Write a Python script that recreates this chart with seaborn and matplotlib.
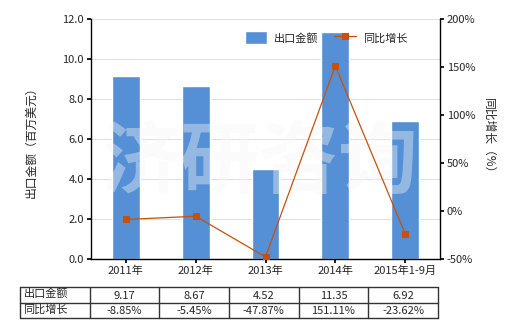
import matplotlib
matplotlib.use("Agg")
import matplotlib.pyplot as plt
import seaborn as sns
import pandas as pd
import numpy as np

categories = ["2011年", "2012年", "2013年", "2014年", "2015年1-9月"]
export_values = [9.17, 8.67, 4.52, 11.35, 6.92]
growth_pct = [-8.85, -5.45, -47.87, 151.11, -23.62]
export_labels = ["9.17", "8.67", "4.52", "11.35", "6.92"]
growth_labels = ["-8.85%", "-5.45%", "-47.87%", "151.11%", "-23.62%"]
series_names = ["出口金额", "同比增长"]

sns.set_theme(style="white")
plt.rcParams['font.family'] = ['Noto Sans CJK SC', 'DejaVu Sans']
plt.rcParams['axes.unicode_minus'] = False

fig = plt.figure(figsize=(5.2, 3.3), dpi=100)
W, H = 520, 330
L, R, T, B = 91, 440, 19, 259
ax = fig.add_axes([L / W, 1 - B / H, (R - L) / W, (B - T) / H])

df = pd.DataFrame({"cat": categories, "val": export_values, "g": growth_pct})
bar_color = "#5590d6"
sns.barplot(data=df, x="cat", y="val", color=bar_color, width=0.4, ax=ax,
            saturation=1, label=series_names[0], zorder=2)
if ax.get_legend():
    ax.get_legend().remove()
ax.set_xlim(-0.5, 4.5)
ax.set_ylim(0, 12)
ax.set_yticks(np.arange(0, 12.01, 2))
ax.set_yticklabels([f"{v:.1f}" for v in np.arange(0, 12.01, 2)], fontsize=8)
ax.set_xticks(range(len(categories)))
ax.set_xticklabels(categories, fontsize=8)
ax.set_xlabel("")
ax.set_ylabel("出口金额（百万美元）", fontsize=8.5, labelpad=18)
ax.grid(axis="y", color="#e0e0e0", linewidth=0.8, zorder=0)
ax.set_axisbelow(True)
for s in ["top", "right"]:
    ax.spines[s].set_visible(False)
for s in ["left", "bottom"]:
    ax.spines[s].set_color("black")
    ax.spines[s].set_linewidth(1)
ax.tick_params(axis="both", which="both", length=3, color="black", direction="out",
               left=True, bottom=True, pad=2)

# watermark (above bars, below line)
ax.text(260 / W, 1 - 164 / H, "济研咨询", transform=fig.transFigure, fontsize=57,
        color="#f6f6f6", alpha=0.4, ha="center", va="center", fontweight="bold", zorder=5)

ax2 = ax.twinx()
line_color = "#c8500a"
sns.lineplot(data=df, x="cat", y="g", ax=ax2, color=line_color, linewidth=0.9,
             marker="s", markersize=5, markeredgecolor=line_color,
             label=series_names[1], sort=False, zorder=3)
ax2.set_ylim(-50, 200)
ax2.set_yticks(np.arange(-50, 201, 50))
ax2.set_yticklabels([f"{v}%" for v in range(-50, 201, 50)], fontsize=8)
ax2.set_ylabel("同比增长（%）", fontsize=8.5, rotation=-90, labelpad=14)
for s in ["top", "left", "bottom"]:
    ax2.spines[s].set_visible(False)
ax2.spines["right"].set_color("black")
ax2.spines["right"].set_linewidth(1)
ax2.tick_params(axis="y", length=3, color="black", direction="out", right=True, pad=2)
ax2.grid(False)
ax2.set_xlabel("")

# legend
h1, l1 = ax.get_legend_handles_labels()
h2, l2 = ax2.get_legend_handles_labels()
if ax2.get_legend():
    ax2.get_legend().remove()
leg = ax2.legend(h1 + h2, l1 + l2, loc="upper right", bbox_to_anchor=(0.935, 0.99),
                 ncol=2, frameon=False, fontsize=8, handlelength=2.0, handleheight=1.4,
                 columnspacing=1.4, handletextpad=0.6)

# table
tab = fig.add_axes([20 / W, 1 - 318 / H, (438 - 20) / W, 31 / H])
tab.set_xlim(0, 6)
tab.set_ylim(0, 2)
tab.axis("off")
for x in range(7):
    tab.plot([x, x], [0, 2], color="#333333", lw=1, clip_on=False)
for y in range(3):
    tab.plot([0, 6], [y, y], color="#333333", lw=1, clip_on=False)
rows = [(series_names[0], export_labels), (series_names[1], growth_labels)]
for r, (name, vals) in enumerate(rows):
    yc = 1.5 - r
    tab.text(0.05, yc + 0.05, name, ha="left", va="center", fontsize=8)
    for i, v in enumerate(vals):
        tab.text(i + 1.5, yc - 0.05, v, ha="center", va="center", fontsize=8)

fig.savefig("out.png", dpi=100)
